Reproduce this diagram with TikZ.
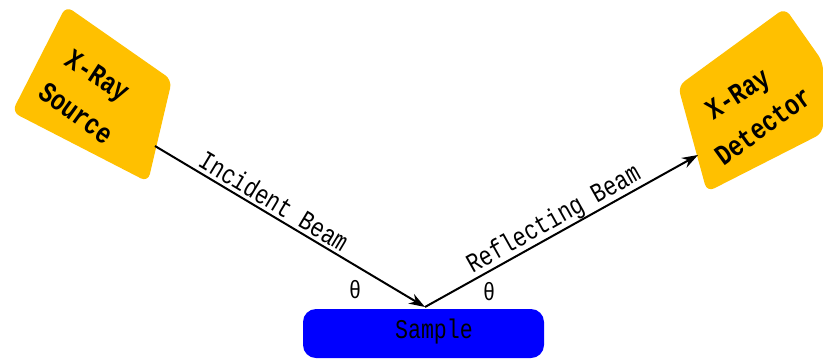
\documentclass[tikz,border=0pt]{standalone}
\usepackage{fontspec}
\usepackage{graphicx}
\setmonofont{Liberation Mono}
\usetikzlibrary{arrows.meta}
\definecolor{boxorange}{RGB}{255,192,0}
\definecolor{sampleblue}{RGB}{0,0,255}
\newcommand{\narrowtxt}[1]{\scalebox{0.8}[1]{#1}}
\tikzset{
  boxshape/.style={fill=boxorange, draw=none, rounded corners=8pt},
  boxlabel/.style={font=\ttfamily\bfseries\fontsize{29}{34}\selectfont, inner sep=0pt},
  beam/.style={line width=2pt, -{Stealth[length=16pt,width=11pt]}},
  beamlabel/.style={font=\ttfamily\fontsize{27}{30}\selectfont, inner sep=0pt},
  thetalabel/.style={font=\ttfamily\fontsize{25}{28}\selectfont, inner sep=0pt},
  samplebox/.style={fill=sampleblue, draw=none, rounded corners=13pt, minimum width=241pt, minimum height=49pt, inner sep=0pt}
}
\begin{document}
\begin{tikzpicture}[x=1pt,y=-1pt]
\useasboundingbox (0,0) rectangle (823,360);
% X-Ray source
\fill[boxshape] (66,6) -- (172,80) -- (148,182) -- (12,112) -- cycle;
\node[boxlabel, rotate=-33] (srclabel1) at (96,78) {\narrowtxt{X-Ray}};
\node[boxlabel, rotate=-36] (srclabel2) at (76,113) {\narrowtxt{Source}};
% X-Ray detector
\fill[boxshape] (678,86) -- (785,8) -- (823,62) -- (823,133) -- (707,192) -- cycle;
\node[boxlabel, rotate=33] (detlabel1) at (739,96) {\narrowtxt{X-Ray}};
\node[boxlabel, rotate=36] (detlabel2) at (763,126) {\narrowtxt{Detector}};
% sample
\node[samplebox] (sample) at (423.5,333.5) {};
\node[beamlabel] (samplelabel) at (434,332) {\narrowtxt{Sample}};
% beams
\coordinate (srcout) at (155,146);
\coordinate (hit) at (425,307);
\coordinate (detin) at (698,155);
\draw[beam] (srcout) -- (hit);
\draw[beam] (hit) -- (detin);
\node[beamlabel, rotate=-31] (inclabel) at (274,201) {\narrowtxt{Incident Beam}};
\node[beamlabel, rotate=29.3] (reflabel) at (554,220) {\narrowtxt{Reflecting Beam}};
\node[thetalabel] (theta1) at (355,290) {\narrowtxt{θ}};
\node[thetalabel] (theta2) at (489,292) {\narrowtxt{θ}};
\end{tikzpicture}
\end{document}
